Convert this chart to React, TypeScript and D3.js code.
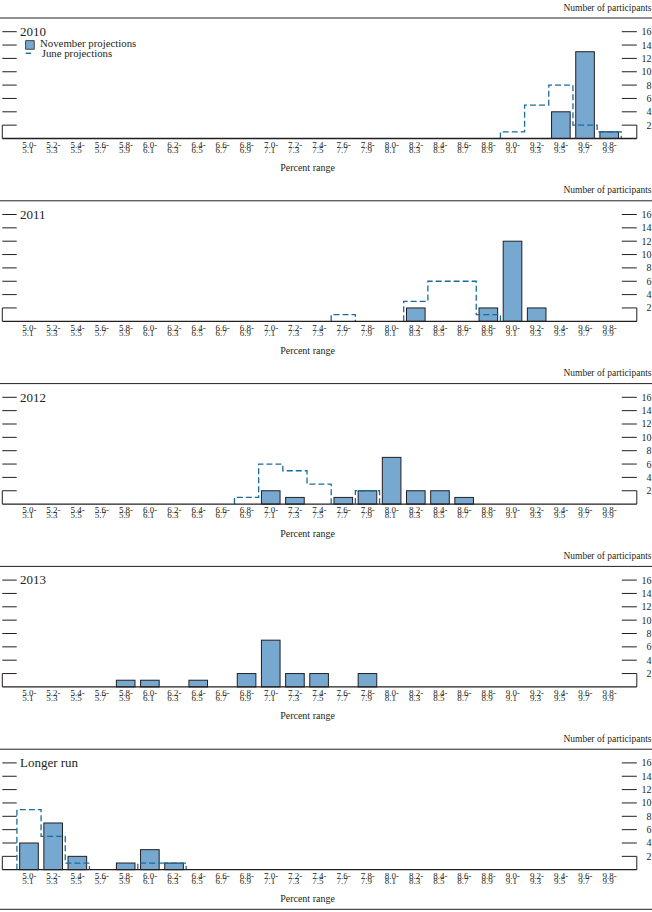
import React from "react";
import * as d3 from "d3";

const binLow = ["5.0-","5.2-","5.4-","5.6-","5.8-","6.0-","6.2-","6.4-","6.6-","6.8-","7.0-","7.2-","7.4-","7.6-","7.8-","8.0-","8.2-","8.4-","8.6-","8.8-","9.0-","9.2-","9.4-","9.6-","9.8-"];
const binHigh = ["5.1","5.3","5.5","5.7","5.9","6.1","6.3","6.5","6.7","6.9","7.1","7.3","7.5","7.7","7.9","8.1","8.3","8.5","8.7","8.9","9.1","9.3","9.5","9.7","9.9"];
const titles = ["2010", "2011", "2012", "2013", "Longer run"];
const yTicks = [2, 4, 6, 8, 10, 12, 14, 16];

//                 5.0 5.2 5.4 5.6 5.8 6.0 6.2 6.4 6.6 6.8 7.0 7.2 7.4 7.6 7.8 8.0 8.2 8.4 8.6 8.8 9.0 9.2 9.4 9.6 9.8
const nov2010 = [0, 0, 0, 0, 0, 0, 0, 0, 0, 0, 0, 0, 0, 0, 0, 0, 0, 0, 0, 0, 0, 0, 4, 13, 1];
const jun2010 = [0, 0, 0, 0, 0, 0, 0, 0, 0, 0, 0, 0, 0, 0, 0, 0, 0, 0, 0, 0, 1, 5, 8, 2, 1];
const nov2011 = [0, 0, 0, 0, 0, 0, 0, 0, 0, 0, 0, 0, 0, 0, 0, 0, 2, 0, 0, 2, 12, 2, 0, 0, 0];
const jun2011 = [0, 0, 0, 0, 0, 0, 0, 0, 0, 0, 0, 0, 0, 1, 0, 0, 3, 6, 6, 1, 0, 0, 0, 0, 0];
const nov2012 = [0, 0, 0, 0, 0, 0, 0, 0, 0, 0, 2, 1, 0, 1, 2, 7, 2, 2, 1, 0, 0, 0, 0, 0, 0];
const jun2012 = [0, 0, 0, 0, 0, 0, 0, 0, 0, 1, 6, 5, 3, 0, 2, 0, 0, 0, 0, 0, 0, 0, 0, 0, 0];
const nov2013 = [0, 0, 0, 0, 1, 1, 0, 1, 0, 2, 7, 2, 2, 0, 2, 0, 0, 0, 0, 0, 0, 0, 0, 0, 0];
const jun2013 = [0, 0, 0, 0, 0, 0, 0, 0, 0, 0, 0, 0, 0, 0, 0, 0, 0, 0, 0, 0, 0, 0, 0, 0, 0];
const novLonger = [4, 7, 2, 0, 1, 3, 1, 0, 0, 0, 0, 0, 0, 0, 0, 0, 0, 0, 0, 0, 0, 0, 0, 0, 0];
const junLonger = [9, 5, 1, 0, 0, 1, 1, 0, 0, 0, 0, 0, 0, 0, 0, 0, 0, 0, 0, 0, 0, 0, 0, 0, 0];

const novSeries = [nov2010, nov2011, nov2012, nov2013, novLonger];
const junSeries = [jun2010, jun2011, jun2012, jun2013, junLonger];

const W = 652;
const H = 912;
const FONT = "'Liberation Serif', 'Times New Roman', serif";
const INK = "#231f20";
const BAR = "#76a8d0";
const JUNE = "#1a6c9c";
const PANEL_STEP = 182.8;
const FIRST_TOP = 18;

function runsOf(vals: number[]): number[][] {
  const out: number[][] = [];
  let cur: number[] = [];
  vals.forEach((v, i) => {
    if (v > 0) cur.push(i);
    else if (cur.length) { out.push(cur); cur = []; }
  });
  if (cur.length) out.push(cur);
  return out;
}

function Panel({ idx }: { idx: number }) {
  const top = FIRST_TOP + idx * PANEL_STEP;
  const nov = novSeries[idx];
  const jun = junSeries[idx];
  const x = d3.scaleBand<number>().domain(d3.range(binLow.length)).range([16.9, 621.3]).paddingInner(0.23).paddingOuter(0.115);
  const y = d3.scaleLinear().domain([0, 16]).range([120.5, 13.7]);
  const base = y(0);
  const gap = (x.step() - x.bandwidth()) / 2;
  const left = (i: number) => (x(i) as number) - gap;
  const right = (i: number) => (x(i) as number) + x.bandwidth() + gap;
  const line = d3.line<[number, number]>().x(d => d[0]).y(d => d[1]);
  const junPaths = runsOf(jun).map(run => {
    const pts: [number, number][] = [[left(run[0]), base]];
    run.forEach(i => { pts.push([left(i), y(jun[i])]); pts.push([right(i), y(jun[i])]); });
    pts.push([right(run[run.length - 1]), base]);
    return line(pts) as string;
  });
  const xl = 2.3, xr = 636.8;
  return (
    <g transform={`translate(0,${top})`}>
      <text x={651.5} y={-7.5} textAnchor="end" fontSize={9.5} fill={INK} fontFamily={FONT}>Number of participants</text>
      <line x1={0} x2={W} y1={0} y2={0} stroke={INK} strokeWidth={1} />
      {yTicks.map(t => (
        <g key={t}>
          <line x1={xl} x2={16.7} y1={y(t)} y2={y(t)} stroke={INK} strokeWidth={1} />
          <line x1={621.8} x2={xr} y1={y(t)} y2={y(t)} stroke={INK} strokeWidth={1} />
          <text x={651.5} y={y(t) + 3.5} textAnchor="end" fontSize={10} fill={INK} fontFamily={FONT}>{t}</text>
        </g>
      ))}
      <line x1={xl} x2={xl} y1={y(2)} y2={base} stroke={INK} strokeWidth={1} />
      <line x1={xr} x2={xr} y1={y(2)} y2={base} stroke={INK} strokeWidth={1} />
      <text x={20} y={18} fontSize={13} fill={INK} fontFamily={FONT}>{titles[idx]}</text>
      {idx === 0 && (
        <g>
          <rect x={25.7} y={22.7} width={8.5} height={8.5} fill={BAR} stroke={INK} strokeWidth={0.8} />
          <text x={40} y={29} fontSize={10.8} fill={INK} fontFamily={FONT}>November projections</text>
          <line x1={25.7} x2={31} y1={35.3} y2={35.3} stroke={JUNE} strokeWidth={1.4} />
          <text x={41.7} y={38.5} fontSize={10.8} fill={INK} fontFamily={FONT}>June projections</text>
        </g>
      )}
      {nov.map((v, i) => v > 0 ? (
        <rect key={i} x={x(i)} y={y(v)} width={x.bandwidth()} height={base - y(v)} fill={BAR} stroke={INK} strokeWidth={1} />
      ) : null)}
      {junPaths.map((d, k) => (
        <path key={k} d={d} fill="none" stroke={JUNE} strokeWidth={1.3} strokeDasharray="6 3" />
      ))}
      <line x1={xl} x2={xr} y1={base} y2={base} stroke={INK} strokeWidth={1.3} />
      {binLow.map((lab, i) => {
        const cx = (x(i) as number) + x.bandwidth() / 2 - 6.8;
        return (
          <g key={i} fontSize={9} fill={INK} fontFamily={FONT}>
            <text transform={`translate(${cx},${base + 9.3}) scale(1,0.8)`}>{lab}</text>
            <text transform={`translate(${cx},${base + 14.3}) scale(1,0.8)`}>{binHigh[i]}</text>
          </g>
        );
      })}
      <text x={307.5} y={153} textAnchor="middle" fontSize={10} fill={INK} fontFamily={FONT}>Percent range</text>
    </g>
  );
}

export default function App() {
  return (
    <svg width={W} height={H} viewBox={`0 0 ${W} ${H}`} style={{ position: "absolute", left: 0, top: 0, display: "block", background: "#fff" }}>
      <rect x={0} y={0} width={W} height={H} fill="#fff" />
      {titles.map((_, i) => <Panel key={i} idx={i} />)}
      <line x1={0} x2={W} y1={909.3} y2={909.3} stroke={INK} strokeWidth={1} />
    </svg>
  );
}
